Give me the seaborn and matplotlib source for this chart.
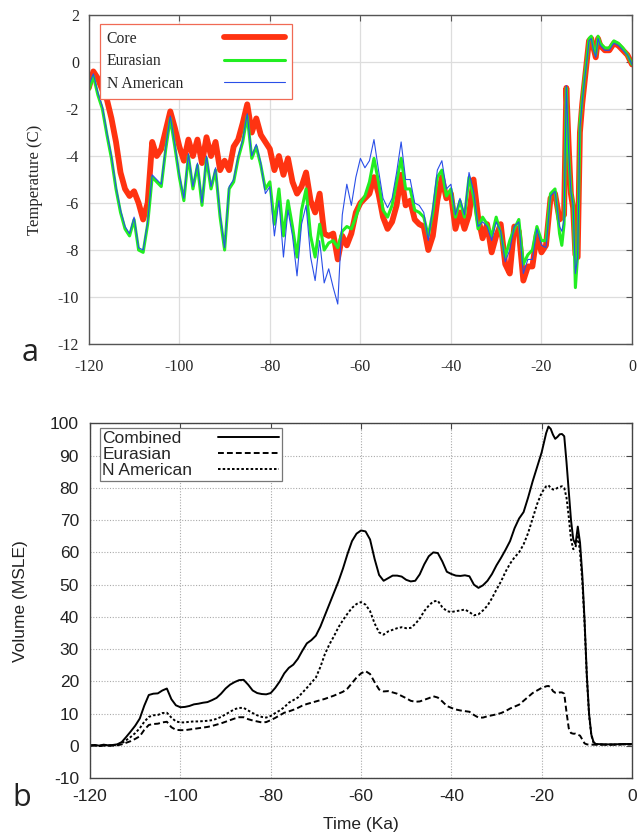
import numpy as np
import pandas as pd
import seaborn as sns
import matplotlib.pyplot as plt

sns.set_style("white")
plt.rcParams['axes.unicode_minus'] = False

# ---- panel a: temperature (C) vs time (ka)
t_temp = np.r_[np.arange(-120, -15), np.arange(-15.5, -6.5, 0.5), np.arange(-6, 1)]

temp_core = [
    -1.1, -0.4, -0.7, -1.2, -1.6, -2.4, -3.4, -4.7, -5.4, -5.7,
    -5.5, -6.0, -6.7, -6.0, -3.4, -4.0, -3.7, -2.9, -2.1, -2.8,
    -3.6, -4.2, -3.3, -4.0, -3.3, -4.3, -3.2, -4.0, -3.4, -4.6,
    -4.2, -4.6, -3.6, -3.3, -2.6, -1.8, -3.0, -2.4, -3.1, -3.4,
    -3.7, -4.6, -4.0, -4.8, -4.1, -5.1, -5.6, -5.3, -4.7, -5.9,
    -6.4, -5.6, -7.3, -7.4, -7.3, -8.4, -7.4, -7.8, -7.3, -6.4,
    -6.0, -5.8, -5.6, -4.9, -5.6, -6.6, -7.1, -6.8, -6.1, -4.8,
    -6.1, -5.9, -6.7, -6.9, -7.0, -8.0, -7.4, -5.9, -4.9, -5.8,
    -5.6, -7.1, -6.4, -7.1, -6.5, -5.0, -6.6, -7.5, -6.9, -8.1,
    -7.4, -6.9, -8.6, -9.0, -7.0, -7.2, -9.3, -8.7, -8.7, -7.3,
    -8.1, -7.8, -5.8, -5.6, -6.7,
    -6.6, -6.5, -1.1, -3.5, -5.6, -6.2, -8.2, -8.3, -3.0, -1.8,
    -0.9, 0.0, 0.9, 1.0, 0.6, 0.2, 1.0, 0.7,
    0.5, 0.5, 0.8, 0.7, 0.5, 0.3, -0.1,
]

temp_eurasian = [
    -1.2, -0.6, -1.4, -2.0, -3.1, -4.1, -5.4, -6.4, -7.1, -7.4,
    -6.7, -8.0, -8.1, -6.9, -4.9, -5.1, -5.3, -3.7, -2.4, -3.6,
    -4.9, -5.9, -4.0, -5.4, -4.4, -6.1, -4.1, -5.4, -4.6, -6.6,
    -8.0, -5.4, -5.1, -4.1, -3.4, -2.3, -4.1, -3.6, -4.4, -5.4,
    -5.1, -6.9, -5.4, -7.4, -5.9, -7.0, -8.3, -6.3, -5.4, -7.4,
    -8.3, -6.9, -8.0, -7.7, -7.6, -7.9, -7.2, -7.0, -7.1, -6.6,
    -6.0, -5.7, -5.1, -4.1, -5.1, -6.3, -6.6, -6.1, -5.1, -4.1,
    -5.4, -5.4, -6.3, -6.4, -6.6, -7.4, -6.4, -4.9, -4.6, -5.7,
    -5.4, -6.6, -5.9, -6.6, -4.9, -5.7, -7.1, -6.6, -6.9, -7.4,
    -6.6, -7.3, -8.3, -7.6, -7.1, -6.7, -8.6, -8.2, -8.0, -7.0,
    -7.6, -7.6, -5.6, -5.4, -7.3,
    -7.8, -6.9, -1.1, -3.9, -5.5, -6.0, -9.6, -8.2, -2.6, -1.6,
    -0.7, 0.1, 1.0, 1.1, 0.6, 0.3, 1.1, 0.8,
    0.6, 0.6, 0.9, 0.8, 0.6, 0.3, -0.1,
]

temp_namerican = [
    -1.0, -0.5, -1.3, -1.9, -3.0, -4.0, -5.3, -6.3, -7.0, -7.3,
    -6.6, -7.9, -8.0, -6.8, -4.8, -5.0, -5.2, -3.6, -2.3, -3.5,
    -4.8, -5.8, -3.9, -5.3, -4.3, -6.0, -4.0, -5.3, -4.5, -6.5,
    -7.9, -5.3, -5.0, -4.0, -3.3, -2.2, -4.0, -3.5, -4.3, -5.6,
    -5.3, -7.4, -5.9, -8.3, -6.3, -7.4, -9.1, -6.9, -6.1, -8.3,
    -9.3, -7.6, -9.4, -8.8, -9.6, -10.3, -6.5, -5.2, -6.1, -4.9,
    -4.1, -4.5, -4.2, -3.3, -4.6, -5.8, -6.2, -5.8, -4.7, -3.4,
    -5.0, -5.0, -6.0, -6.1, -6.4, -7.6, -6.2, -4.6, -4.2, -5.4,
    -5.2, -6.5, -5.8, -6.5, -4.7, -5.5, -7.0, -6.8, -7.0, -7.6,
    -6.8, -7.2, -8.5, -8.0, -7.0, -6.8, -9.0, -8.4, -8.4, -7.1,
    -7.8, -7.9, -5.7, -5.5, -7.0,
    -7.2, -6.7, -1.0, -3.7, -5.5, -6.1, -9.0, -8.3, -2.8, -1.7,
    -0.8, 0.0, 0.9, 1.0, 0.5, 0.2, 1.0, 0.7,
    0.5, 0.5, 0.8, 0.7, 0.5, 0.3, -0.1,
]

# ---- panel b: ice volume (MSLE) vs time (ka)
t_vol = np.r_[np.arange(-120, -19), np.arange(-19.5, -7.5, 0.5), np.arange(-6, 1, 2)]

vol_combined = [
    0.2, 0.3, 0.1, 0.4, 0.2, 0.3, 0.5, 1.2, 2.8, 4.5,
    6.3, 8.5, 12.5, 15.8, 16.2, 16.3, 17.2, 17.8, 14.5, 12.6,
    12.0, 12.1, 12.4, 12.9, 13.1, 13.4, 13.6, 14.2, 14.9, 16.2,
    17.8, 19.0, 19.8, 20.4, 20.5, 19.0, 17.2, 16.4, 16.1, 16.0,
    16.4, 18.0, 20.0, 22.5, 24.2, 25.2, 27.0, 29.5, 31.8, 32.8,
    34.2, 37.0, 40.5, 44.0, 47.5, 51.0, 55.0, 59.5, 63.5, 65.8,
    66.8, 66.5, 64.0, 58.0, 53.0, 51.2, 52.0, 52.8, 52.8, 52.5,
    51.5, 51.0, 51.2, 53.2, 56.3, 58.8, 60.0, 59.8, 57.2, 54.0,
    53.3, 52.8, 52.7, 52.9, 52.6, 50.0, 49.0, 49.8, 51.2, 53.3,
    56.0, 58.3, 60.8, 63.5, 67.5, 70.5, 72.5, 77.0, 82.0, 86.5,
    91.0,
    94.0, 97.0, 99.0, 98.3, 96.5, 95.2, 95.8, 96.6, 96.7, 96.0,
    88.0, 79.0, 70.0, 64.0, 62.5, 68.0, 63.0, 53.0, 39.0, 22.0,
    10.0, 3.5, 1.2, 0.6,
    0.5, 0.5, 0.6, 0.6,
]

vol_eurasian = [
    0.1, 0.1, 0.0, 0.1, 0.1, 0.1, 0.2, 0.5, 1.0, 1.5,
    2.2, 3.0, 5.0, 6.5, 6.8, 6.9, 7.3, 7.5, 5.8, 5.0,
    4.9, 4.9, 5.1, 5.3, 5.5, 5.7, 5.9, 6.2, 6.6, 7.0,
    7.5, 8.0, 8.5, 8.9, 8.9, 8.3, 7.9, 7.6, 7.3, 7.4,
    8.0, 8.7, 9.5, 10.3, 10.7, 11.2, 11.8, 12.5, 13.0, 13.4,
    13.8, 14.2, 14.6, 15.1, 15.6, 16.2, 16.8, 17.8, 19.5, 21.2,
    22.5, 23.2, 22.3, 19.8, 17.5, 16.9, 17.0, 16.6, 16.2, 15.5,
    14.8, 14.0, 13.7, 13.8, 14.3, 14.8, 15.4, 15.0, 13.8, 12.4,
    11.8, 11.3, 11.0, 10.8, 10.6, 9.6, 8.8, 8.8, 9.2, 9.5,
    9.8, 10.2, 10.8, 11.6, 12.2, 12.8, 14.0, 15.2, 16.4, 17.2,
    18.0,
    18.2, 18.5, 18.6, 18.2, 17.0, 16.5, 16.4, 16.6, 16.6, 16.2,
    10.5, 5.5, 4.0, 3.8, 3.8, 3.5, 3.2, 2.0, 0.8, 0.5,
    0.4, 0.4, 0.4, 0.4,
    0.4, 0.4, 0.5, 0.5,
]

vol_namerican = [
    0.1, 0.2, 0.0, 0.2, 0.1, 0.2, 0.3, 0.8, 1.8, 2.8,
    4.0, 5.5, 7.5, 9.0, 9.5, 9.6, 10.2, 10.3, 8.8, 7.6,
    7.3, 7.3, 7.5, 7.6, 7.6, 7.7, 7.8, 8.0, 8.4, 9.0,
    9.8, 10.6, 11.4, 11.8, 11.8, 11.0, 10.2, 9.5, 9.0, 8.8,
    9.3, 10.2, 11.0, 12.0, 13.4, 14.2, 15.0, 16.5, 18.0, 19.6,
    21.2, 24.5, 28.5, 31.5, 34.0, 36.8, 39.0, 41.0, 42.8, 44.0,
    44.6, 43.8, 41.8, 38.0, 35.2, 34.5, 35.5, 36.0, 36.5, 36.8,
    36.5, 36.6, 37.8, 39.5, 41.8, 43.5, 44.8, 45.0, 43.0, 41.8,
    41.5, 41.8, 42.0, 42.3, 41.5, 40.5, 40.8, 42.0, 43.5, 45.8,
    48.5, 51.0, 54.0, 56.5, 58.5, 60.0, 62.5, 66.0, 70.5, 75.0,
    78.5,
    79.5, 80.5, 80.8, 80.0, 79.5, 79.5, 80.0, 80.3, 80.5, 80.0,
    77.0, 71.0, 64.0, 61.0, 61.5, 65.5, 60.0, 51.0, 38.0, 21.5,
    9.5, 3.3, 1.0, 0.5,
    0.4, 0.4, 0.5, 0.5,
]

temp = pd.DataFrame({'t': t_temp, 'Core': temp_core,
                     'Eurasian': temp_eurasian, 'N American': temp_namerican})
vol = pd.DataFrame({'t': t_vol, 'Combined': vol_combined,
                    'Eurasian': vol_eurasian, 'N American': vol_namerican})

fig = plt.figure(figsize=(6.39, 8.35), dpi=100)
ax1 = fig.add_axes([0.139, 0.588, 0.850, 0.394])
ax2 = fig.add_axes([0.141, 0.068, 0.848, 0.425])

serif = 'Liberation Serif'
sans = 'Liberation Sans'


def left_align(leg):
    # gnuplot style key: text left-aligned, samples lined up on the right
    r = fig.canvas.get_renderer()
    rows = [row for col in leg._legend_handle_box.get_children()
            for row in col.get_children()]
    widths = [row.get_children()[0].get_window_extent(r).width for row in rows]
    wmax = max(widths)
    for row, w in zip(rows, widths):
        row.sep += (wmax - w) * 72 / fig.dpi


# panel a
sns.lineplot(data=temp, x='t', y='Core', ax=ax1, color='#ff3311', linewidth=4.2,
             estimator=None, label='Core')
sns.lineplot(data=temp, x='t', y='Eurasian', ax=ax1, color='#22ee22', linewidth=2.2,
             estimator=None, label='Eurasian')
sns.lineplot(data=temp, x='t', y='N American', ax=ax1, color='#2a4fe8', linewidth=0.8,
             estimator=None, label='N American')

ax1.set_xlim(-120, 0)
ax1.set_ylim(-12, 2)
ax1.set_xticks(range(-120, 1, 20))
ax1.set_yticks(range(-12, 3, 2))
ax1.grid(True, color='#dddddd', linewidth=0.9)
ax1.set_axisbelow(True)
for s in ax1.spines.values():
    s.set_color('#555555')
    s.set_linewidth(1.0)
ax1.tick_params(direction='in', length=4, width=0.8, color='#555555',
                top=True, right=True, labelsize=11.5)
ax1.tick_params(axis='x', pad=11)
ax1.tick_params(axis='y', pad=7)
for lab in ax1.get_xticklabels() + ax1.get_yticklabels():
    lab.set_fontfamily(serif)
ax1.set_xlabel('')
ax1.set_ylabel('Temperature (C)', fontfamily=serif, fontsize=12)
ax1.yaxis.set_label_coords(-0.085, 0.5)
leg1 = ax1.legend(loc='upper left', bbox_to_anchor=(0.02, 0.973), borderaxespad=0,
                  markerfirst=False, fancybox=False, framealpha=1, edgecolor='#f06a55',
                  prop={'family': serif, 'size': 11.3}, handlelength=3.9,
                  handletextpad=2.6, labelspacing=0.4, borderpad=0.45)
leg1.get_frame().set_linewidth(0.9)
left_align(leg1)

# panel b
sns.lineplot(data=vol, x='t', y='Combined', ax=ax2, color='black', linewidth=1.4,
             estimator=None, label='Combined')
sns.lineplot(data=vol, x='t', y='Eurasian', ax=ax2, color='black', linewidth=1.4,
             estimator=None, label='Eurasian', linestyle=(0, (3.0, 1.6)))
sns.lineplot(data=vol, x='t', y='N American', ax=ax2, color='black', linewidth=1.4,
             estimator=None, label='N American', linestyle=(0, (1.3, 1.1)))

ax2.set_xlim(-120, 0)
ax2.set_ylim(-10, 100)
ax2.set_xticks(range(-120, 1, 20))
ax2.set_yticks(range(-10, 101, 10))
ax2.grid(True, color='#aaaaaa', linewidth=0.8, linestyle=(0, (1, 1.5)))
ax2.set_axisbelow(True)
for s in ax2.spines.values():
    s.set_color('#444444')
    s.set_linewidth(1.0)
ax2.tick_params(direction='in', length=4, width=0.8, color='#444444',
                top=True, right=True, labelsize=12.5, colors='#222222')
ax2.tick_params(axis='x', pad=8)
ax2.tick_params(axis='y', pad=8)
for lab in ax2.get_xticklabels() + ax2.get_yticklabels():
    lab.set_fontfamily(sans)
ax2.set_xlabel('Time (Ka)', fontfamily=sans, fontsize=12.5, color='#222222')
ax2.set_ylabel('Volume (MSLE)', fontfamily=sans, fontsize=12.5, color='#222222')
ax2.yaxis.set_label_coords(-0.115, 0.5)
ax2.xaxis.set_label_coords(0.5, -0.108)
leg2 = ax2.legend(loc='upper left', bbox_to_anchor=(0.018, 0.986), borderaxespad=0,
                  markerfirst=False, fancybox=False, framealpha=1, edgecolor='#777777',
                  prop={'family': sans, 'size': 12.5}, handlelength=3.5,
                  handletextpad=1.5, labelspacing=0.05, borderpad=0.15)
leg2.get_frame().set_linewidth(0.9)
left_align(leg2)

fig.text(30 / 639, 1 - 353 / 835, 'a', fontsize=22, family='Open Sans',
         ha='center', va='center', color='#222222')
fig.text(22 / 639, 1 - 798 / 835, 'b', fontsize=22, family='Open Sans',
         ha='center', va='center', color='#222222')

fig.savefig('out.png', dpi=100)
